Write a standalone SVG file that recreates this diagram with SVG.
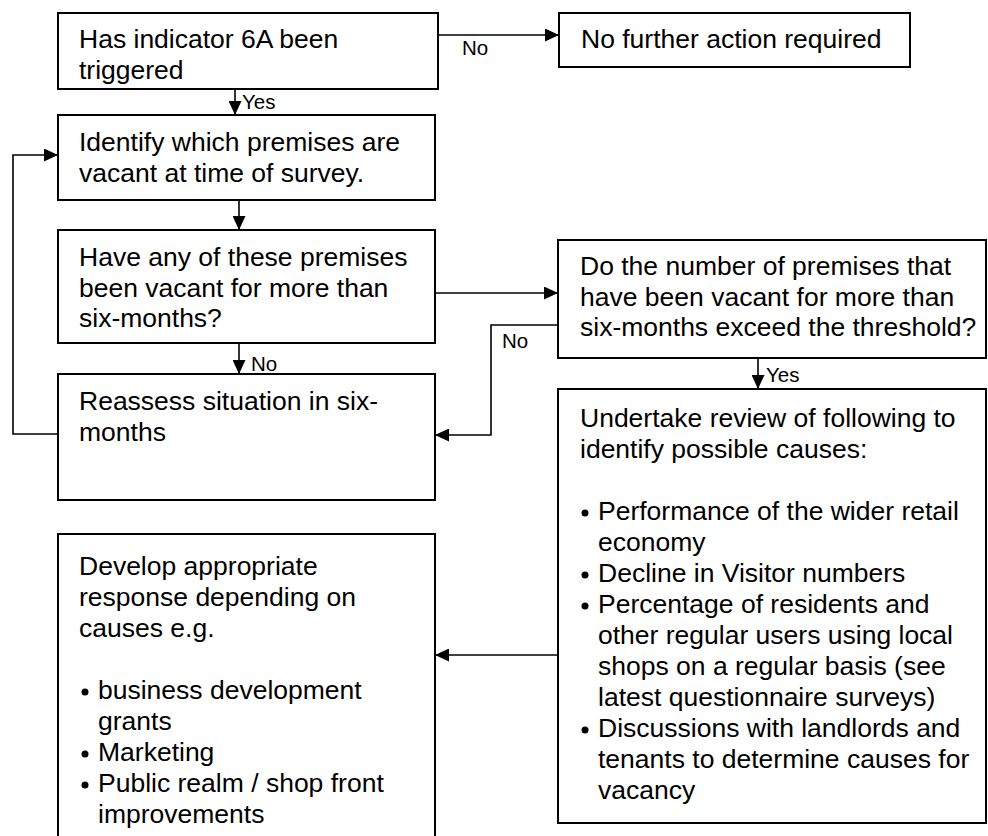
<svg xmlns="http://www.w3.org/2000/svg" width="988" height="836" viewBox="0 0 988 836">
  <style>
    .box { fill: #ffffff; stroke: #000000; stroke-width: 2; }
    .txt { font-family: "Liberation Sans", Arial, sans-serif; font-size: 26.5px; fill: #000000; }
    .lbl { font-family: "Liberation Sans", Arial, sans-serif; font-size: 20.5px; fill: #000000; }
    .link { fill: none; stroke: #000000; stroke-width: 1.6; }
    .dot { fill: #000000; }
  </style>
  <defs>
    <marker id="arrow" markerUnits="userSpaceOnUse" markerWidth="14" markerHeight="13" refX="14" refY="6.5" orient="auto">
      <path d="M0,0 L14,6.5 L0,13 Z" fill="#000000"/>
    </marker>
  </defs>
  <rect width="988" height="836" fill="#ffffff"/>

  <!-- connectors -->
  <g id="connectors">
    <line class="link" x1="438" y1="35" x2="559" y2="35" marker-end="url(#arrow)"/>
    <text class="lbl" x="462" y="55">No</text>

    <line class="link" x1="235" y1="89" x2="235" y2="115" marker-end="url(#arrow)"/>
    <text class="lbl" x="242" y="109">Yes</text>

    <line class="link" x1="239" y1="200" x2="239" y2="230" marker-end="url(#arrow)"/>

    <line class="link" x1="239" y1="343" x2="239" y2="374" marker-end="url(#arrow)"/>
    <text class="lbl" x="251" y="371">No</text>

    <line class="link" x1="435" y1="293" x2="558" y2="293" marker-end="url(#arrow)"/>

    <polyline class="link" points="558,325 491,325 491,435 435,435" marker-end="url(#arrow)"/>
    <text class="lbl" x="502" y="348">No</text>

    <line class="link" x1="758" y1="358" x2="758" y2="389" marker-end="url(#arrow)"/>
    <text class="lbl" x="766" y="381.5">Yes</text>

    <line class="link" x1="558" y1="655" x2="435" y2="655" marker-end="url(#arrow)"/>

    <polyline class="link" points="58,434 13,434 13,155 58,155" marker-end="url(#arrow)"/>
  </g>

  <!-- decision: indicator triggered -->
  <g id="node-indicator">
    <rect class="box" x="58" y="13" width="380" height="76"/>
    <text class="txt" x="79" y="48">Has indicator 6A been<tspan x="79" dy="30.7">triggered</tspan></text>
  </g>

  <g id="node-no-action">
    <rect class="box" x="559" y="13" width="351" height="54"/>
    <text class="txt" x="581" y="48">No further action required</text>
  </g>

  <g id="node-identify">
    <rect class="box" x="58" y="115" width="377" height="85"/>
    <text class="txt" x="79" y="151">Identify which premises are<tspan x="79" dy="30.7">vacant at time of survey.</tspan></text>
  </g>

  <g id="node-six-months">
    <rect class="box" x="58" y="230" width="377" height="113"/>
    <text class="txt" x="79" y="266">Have any of these premises<tspan x="79" dy="30.7">been vacant for more than</tspan><tspan x="79" dy="30.7">six-months?</tspan></text>
  </g>

  <g id="node-threshold">
    <rect class="box" x="558" y="240" width="428" height="118"/>
    <text class="txt" x="580" y="275">Do the number of premises that<tspan x="580" dy="30.7">have been vacant for more than</tspan><tspan x="580" dy="30.7">six-months exceed the threshold?</tspan></text>
  </g>

  <g id="node-reassess">
    <rect class="box" x="58" y="374" width="377" height="126"/>
    <text class="txt" x="79" y="410">Reassess situation in six-<tspan x="79" dy="30.7">months</tspan></text>
  </g>

  <g id="node-review">
    <rect class="box" x="558" y="389" width="428" height="434"/>
    <text class="txt" x="580" y="427">Undertake review of following to<tspan x="580" dy="31">identify possible causes:</tspan><tspan x="598" dy="62">Performance of the wider retail</tspan><tspan x="598" dy="31">economy</tspan><tspan x="598" dy="31">Decline in Visitor numbers</tspan><tspan x="598" dy="31">Percentage of residents and</tspan><tspan x="598" dy="31">other regular users using local</tspan><tspan x="598" dy="31">shops on a regular basis (see</tspan><tspan x="598" dy="31">latest questionnaire surveys)</tspan><tspan x="598" dy="31">Discussions with landlords and</tspan><tspan x="598" dy="31">tenants to determine causes for</tspan><tspan x="598" dy="31">vacancy</tspan></text>
    <circle class="dot" cx="585" cy="513" r="3.5"/>
    <circle class="dot" cx="585" cy="575" r="3.5"/>
    <circle class="dot" cx="585" cy="606" r="3.5"/>
    <circle class="dot" cx="585" cy="730" r="3.5"/>
  </g>

  <g id="node-response">
    <rect class="box" x="58" y="534" width="377" height="312"/>
    <text class="txt" x="79" y="575">Develop appropriate<tspan x="79" dy="31">response depending on</tspan><tspan x="79" dy="31">causes e.g.</tspan><tspan x="98" dy="62">business development</tspan><tspan x="98" dy="31">grants</tspan><tspan x="98" dy="31">Marketing</tspan><tspan x="98" dy="31">Public realm / shop front</tspan><tspan x="98" dy="31">improvements</tspan></text>
    <circle class="dot" cx="85" cy="692" r="3.5"/>
    <circle class="dot" cx="85" cy="754" r="3.5"/>
    <circle class="dot" cx="85" cy="785" r="3.5"/>
  </g>
</svg>
